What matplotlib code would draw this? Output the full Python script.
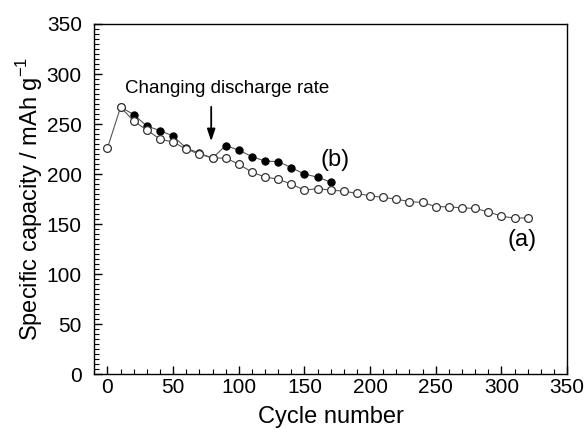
import matplotlib
matplotlib.use("Agg")
import matplotlib.pyplot as plt
from matplotlib.ticker import MultipleLocator

plt.rcParams['font.family'] = ['Liberation Sans', 'DejaVu Sans']

cycles_a = [0, 10, 20, 30, 40, 50, 60, 70, 80, 90, 100, 110, 120, 130, 140, 150,
            160, 170, 180, 190, 200, 210, 220, 230, 240, 250, 260, 270, 280, 290,
            300, 310, 320]
capacity_a = [226, 267, 253, 244, 235, 232, 225, 220, 216, 216, 210, 202, 197, 195,
              190, 184, 185.5, 184, 183, 180.7, 178.3, 176.7, 175, 172.5, 171.7,
              167.5, 167.3, 166.3, 165.7, 162.3, 158, 156, 156.3]

cycles_b = [10, 20, 30, 40, 50, 60, 70, 80, 90, 100, 110, 120, 130, 140, 150, 160, 170]
capacity_b = [267, 259.5, 248, 243.5, 238, 226, 221, 216, 228.5, 224, 217.5, 213,
              212.5, 206.5, 200, 197, 192]

fig = plt.figure(figsize=(5.87, 4.33), dpi=100)
ax = fig.add_axes([0.1607, 0.1356, 0.966 - 0.1607, 0.9446 - 0.1356])

ax.plot(cycles_b, capacity_b, '-', color='#555555', lw=0.8, marker='o', ms=5.2,
        mfc='black', mec='black', mew=0.8, zorder=2)
ax.plot(cycles_a, capacity_a, '-', color='#555555', lw=0.8, marker='o', ms=5.6,
        mfc='white', mec='#333333', mew=0.9, zorder=3)

ax.set_xlim(-10, 350)
ax.set_ylim(0, 350)
ax.xaxis.set_major_locator(MultipleLocator(50))
ax.xaxis.set_minor_locator(MultipleLocator(10))
ax.yaxis.set_major_locator(MultipleLocator(50))
ax.yaxis.set_minor_locator(MultipleLocator(5))
ax.tick_params(which='both', direction='in', top=False, right=False, labelsize=15)
ax.tick_params(which='major', length=6, width=1)
ax.tick_params(axis='x', which='major', pad=3)
ax.tick_params(axis='y', which='major', pad=9)
ax.tick_params(which='minor', length=3.5, width=0.8)
for s in ax.spines.values():
    s.set_linewidth(1.0)

ax.set_xlabel('Cycle number', fontsize=17, labelpad=6)
ax.set_ylabel('Specific capacity / mAh g$^{\\mathregular{-1}}$', fontsize=17, labelpad=1)

ax.annotate('', xy=(79, 230), xytext=(79, 270),
            arrowprops=dict(arrowstyle='-|>,head_width=0.2,head_length=0.6',
                            color='black', lw=1.3, mutation_scale=12))
ax.text(91, 286, 'Changing discharge rate', fontsize=13.5, ha='center', va='center')
ax.text(173, 214, '(b)', fontsize=17, ha='center', va='center')
ax.text(316, 134, '(a)', fontsize=17, ha='center', va='center')

fig.savefig('out.png', dpi=100)
